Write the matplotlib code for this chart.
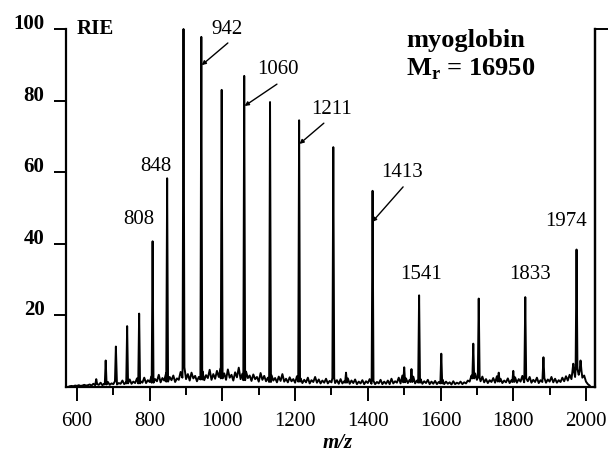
import numpy as np
import matplotlib.pyplot as plt

plt.rcParams['font.family'] = ['Liberation Serif', 'DejaVu Serif']
plt.rcParams['mathtext.fontset'] = 'custom'
plt.rcParams['mathtext.bf'] = 'Liberation Serif:bold'
plt.rcParams['mathtext.rm'] = 'Liberation Serif'

# baseline noise, read every 5 m/z from 580 to 2010
noise_start = 580
noise_step = 5
noise_level = [
    0.2, 0.3, 0.2, 0.4, 0.3, 0.5, 0.3, 0.4, 0.6, 0.4, 0.5, 0.7, 0.4, 0.9, 0.5, 0.8, 0.6, 1.2, 0.5, 0.9,
    0.7, 1.4, 0.6, 1.0, 0.8, 1.6, 0.7, 1.1, 0.9, 1.8, 0.8, 1.3, 1.0, 2.1, 0.9, 1.5, 1.1, 2.4, 1.0, 1.6,
    1.2, 2.6, 1.1, 1.9, 1.4, 3.0, 1.2, 2.2, 1.6, 3.4, 1.3, 2.5, 1.8, 3.8, 1.5, 2.8, 1.9, 3.2, 1.4, 2.4,
    2.0, 4.2, 2.6, 5.5, 2.2, 3.6, 1.8, 4.0, 2.4, 3.1, 1.6, 2.8, 2.1, 4.4, 1.9, 3.3, 2.5, 4.8, 2.0, 3.6,
    2.3, 4.5, 2.8, 5.2, 2.4, 3.8, 2.0, 4.9, 2.6, 3.4, 1.8, 4.1, 2.7, 5.4, 2.2, 3.7, 1.9, 4.3, 2.5, 3.2,
    1.7, 3.5, 2.2, 2.8, 1.5, 3.9, 2.0, 3.1, 1.6, 2.6, 1.4, 3.3, 1.8, 2.5, 1.3, 2.9, 1.7, 3.6, 1.5, 2.3,
    1.3, 2.7, 1.6, 2.2, 1.2, 3.0, 1.5, 2.4, 1.1, 2.0, 1.3, 2.6, 1.0, 1.9, 1.4, 2.8, 1.2, 2.1, 1.0, 1.8,
    1.2, 2.3, 1.0, 1.7, 1.3, 2.5, 1.1, 1.9, 0.9, 2.2, 1.0, 1.6, 1.2, 2.4, 0.9, 1.8, 1.1, 2.1, 0.8, 1.5,
    1.0, 1.9, 0.8, 1.6, 1.1, 2.2, 0.9, 1.7, 0.8, 1.4, 1.0, 2.0, 0.8, 1.5, 0.9, 1.8, 0.8, 2.3, 1.0, 1.6,
    1.2, 2.6, 1.0, 3.2, 1.3, 2.4, 1.1, 2.0, 1.4, 2.9, 1.0, 1.8, 1.2, 2.2, 0.9, 1.6, 1.1, 2.0, 0.8, 1.5,
    0.9, 1.7, 0.8, 1.4, 1.0, 2.1, 0.8, 1.5, 0.9, 1.3, 0.7, 1.6, 0.8, 1.2, 0.9, 1.5, 0.8, 1.3, 1.0, 1.8,
    1.5, 3.2, 2.4, 3.8, 2.0, 2.6, 1.6, 2.9, 1.3, 2.2, 1.1, 1.9, 1.4, 2.5, 1.2, 3.0, 1.5, 2.3, 1.1, 1.8,
    1.3, 2.4, 1.1, 1.9, 1.4, 2.7, 1.2, 2.2, 1.5, 3.1, 1.3, 2.4, 1.6, 2.8, 1.2, 2.0, 1.4, 2.6, 1.1, 1.9,
    1.4, 2.5, 1.2, 2.1, 1.5, 2.8, 1.3, 2.3, 1.2, 1.9, 1.4, 2.6, 1.6, 3.0, 1.8, 3.4, 2.2, 4.2, 2.8, 5.0,
    3.4, 4.6, 2.6, 3.2, 1.5, 0.8, 0.4,
]

# peaks (m/z, relative intensity)
peak_mz = [653, 679, 707, 738, 771, 808, 848, 893, 942, 998, 1060, 1131,
           1211, 1305, 1340, 1413, 1500, 1520, 1541, 1602, 1690, 1705,
           1760, 1800, 1833, 1883, 1965, 1974, 1985]
peak_height = [2.2, 7.4, 11.3, 17.0, 20.5, 40.7, 58.3, 100.0, 97.8, 83.0,
               86.9, 79.6, 74.5, 67.0, 4.0, 54.8, 5.5, 5.0, 25.6, 9.3,
               12.1, 24.7, 4.0, 4.5, 25.1, 8.3, 6.5, 38.4, 7.4]

# labelled peaks
label_text = ['808', '848', '942', '1060', '1211', '1413', '1541', '1833', '1974']
label_x = [769, 816, 1014, 1154, 1299, 1494, 1546, 1847, 1946]
label_y = [46.8, 61.7, 99.9, 88.7, 77.4, 59.9, 31.3, 31.3, 46.2]

# pointer lines for some labels
arrow_from = [(1015, 96.1), (1150, 84.6), (1279, 73.7), (1497, 55.9)]
arrow_to = [(943, 89.9), (1061, 78.5), (1212, 67.9), (1412, 46.1)]

# build the trace
noise_mz = [noise_start + i * noise_step for i in range(len(noise_level))]
pts = []
for m, h in zip(noise_mz, noise_level):
    if min(abs(m - p) for p in peak_mz) > 2.5:
        pts.append((m, h))
for m, h in zip(peak_mz, peak_height):
    near = noise_level[int(round((m - noise_start) / noise_step))]
    pts += [(m - 2.5, near), (m, h), (m + 2.5, near)]
pts.sort()
xs = np.array([p[0] for p in pts])
ys = np.array([p[1] for p in pts])

fig = plt.figure(figsize=(6.12, 4.54), dpi=100)
ax = fig.add_axes([0.1078, 0.1476, 0.8644, 0.7885])

ax.plot(xs, ys, color='black', lw=1.4, clip_on=False)

ax.set_xlim(569.75, 2024.75)
ax.set_ylim(0, 100)

for s in ['left', 'right', 'bottom']:
    ax.spines[s].set_linewidth(1.6)
ax.spines['top'].set_visible(False)

ax.set_xticks(range(600, 2001, 200))
ax.set_xticks(range(700, 2000, 200), minor=True)
ax.set_xticklabels([str(v) for v in range(600, 2001, 200)], fontsize=15)
ax.tick_params(axis='x', which='major', length=10, width=1.4, pad=8)
ax.tick_params(axis='x', which='minor', length=6, width=1.4)

ax.set_yticks([20, 40, 60, 80, 100])
ax.set_yticklabels(['20', '40', '60', '80', '100'], fontsize=15,
                   fontweight='bold', va='baseline')
ax.tick_params(axis='y', length=9, width=1.4, pad=6.5)

right = ax.secondary_yaxis('right')
right.set_yticks([100])
right.set_yticklabels([''])
right.tick_params(length=9, width=1.4)
right.spines['right'].set_linewidth(1.6)

ax.set_xlabel('m/z', fontsize=15, fontstyle='italic', fontweight='bold')
ax.xaxis.set_label_coords(0.513, -0.128)
ax.xaxis.label.set_va('top')

for t, x, y in zip(label_text, label_x, label_y):
    ax.text(x, y, t, fontsize=15, ha='center', va='center')
for a, b in zip(arrow_from, arrow_to):
    ax.annotate('', xy=b, xytext=a,
                arrowprops=dict(arrowstyle='-|>', lw=1.0, color='black',
                                mutation_scale=6, shrinkA=0, shrinkB=0))

ax.text(600, 100, 'RIE', fontsize=15, fontweight='bold', va='center', ha='left')
ax.text(0.643, 0.950, 'myoglobin', transform=ax.transAxes, fontsize=19,
        fontweight='bold', ha='left', va='baseline')
ax.text(0.643, 0.871, r'M$_{\mathbf{r}}$ = 16950', transform=ax.transAxes,
        fontsize=19, fontweight='bold', ha='left', va='baseline')

fig.savefig('out.png', dpi=100)
